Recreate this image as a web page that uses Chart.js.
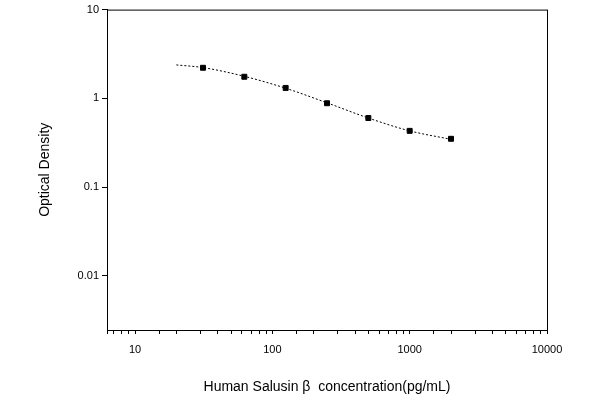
<!DOCTYPE html>
<html><head><script src="https://cdn.jsdelivr.net/npm/chart.js@4"></script>
<style>body{margin:0;background:#fff}#w{width:600px;height:400px}</style></head>
<body><div id="w"><canvas id="c"></canvas></div>
<script>
const concentrations=[31.25,62.5,125,250,500,1000,2000];
const odValues=[2.21,1.75,1.31,0.88,0.60,0.43,0.35];
const curveX=[20,31.25,62.5,125,250,500,1000,2000];
const curveY=[2.38,2.22,1.77,1.30,0.89,0.60,0.43,0.345];
const xMajor=[10,100,1000,10000];
const yMajor=[0.01,0.1,1,10];
const frame={id:'frame',afterDraw(ch){const a=ch.chartArea,g=ch.ctx;g.save();g.strokeStyle='#000';g.lineWidth=1;g.strokeRect(a.left+0.5,a.top+0.5,a.right-a.left,a.bottom-a.top);g.restore();}};
new Chart(document.getElementById('c'),{
type:'scatter',
data:{datasets:[
{data:curveX.map((x,i)=>({x,y:curveY[i]})),showLine:true,borderColor:'#000',borderWidth:1,borderDash:[2,2],pointRadius:0,cubicInterpolationMode:'monotone'},
{data:concentrations.map((x,i)=>({x,y:odValues[i]})),pointStyle:'rect',pointRadius:3.5,backgroundColor:'#000',borderColor:'#000',showLine:false}
]},
options:{responsive:true,maintainAspectRatio:false,animation:false,
layout:{padding:{top:6,right:53,left:33,bottom:0}},
plugins:{legend:{display:false},tooltip:{enabled:false}},
scales:{
x:{type:'logarithmic',min:6.25,max:10000,
afterFit(s){s.height=70;},
grid:{drawOnChartArea:false,color:'#000',tickLength:4},
border:{color:'#000'},
ticks:{color:'#000',font:{family:'Liberation Sans',size:11},padding:9,maxRotation:0,autoSkip:false,callback:v=>xMajor.includes(v)?String(v):''},
title:{display:true,text:'Human Salusin β  concentration(pg/mL)',color:'#000',font:{family:'Liberation Sans',size:14},padding:{top:14}}},
y:{type:'logarithmic',min:0.00245,max:10,
afterFit(s){s.width=74;},
afterBuildTicks(s){s.ticks=yMajor.map(v=>({value:v}));},
grid:{drawOnChartArea:false,color:'#000',tickLength:5},
border:{color:'#000'},
ticks:{color:'#000',font:{family:'Liberation Sans',size:11},callback:v=>String(v)},
title:{display:true,text:'Optical Density',color:'#000',font:{family:'Liberation Sans',size:14},padding:{bottom:4}}}
}},
plugins:[frame]});
</script></body></html>
